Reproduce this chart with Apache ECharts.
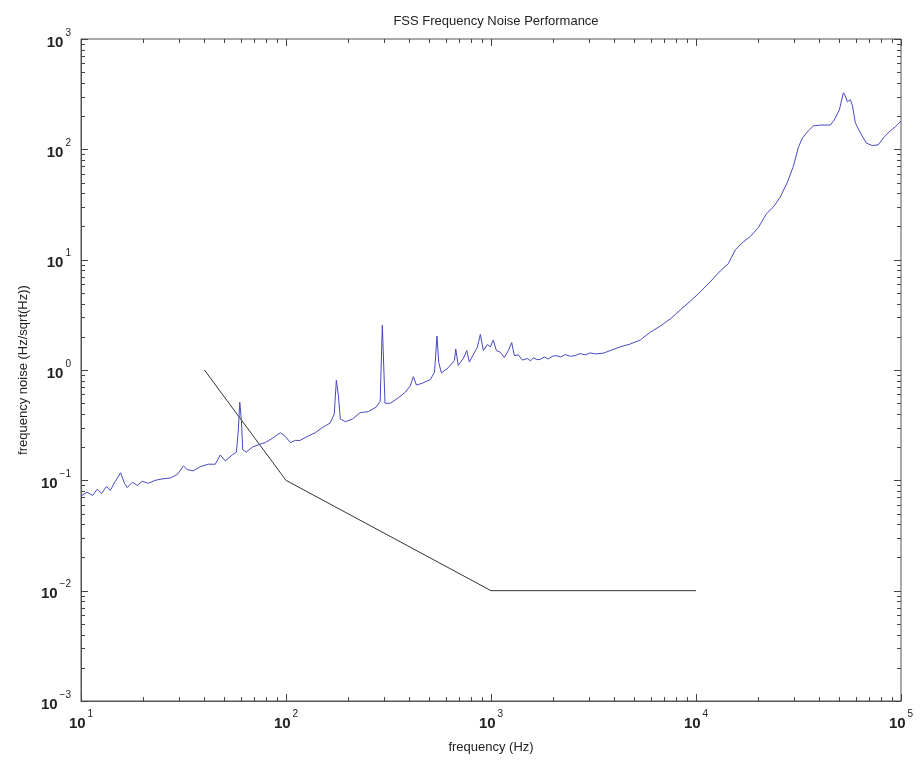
<!DOCTYPE html>
<html>
<head>
<meta charset="utf-8">
<script src="https://cdn.jsdelivr.net/npm/echarts@6/dist/echarts.min.js"></script>
<style>
html,body{margin:0;padding:0;background:#fff;}
#chart{width:922px;height:763px;}
</style>
</head>
<body>
<div id="chart"></div>
<script>
// ---- Data ----
const titleText = 'FSS Frequency Noise Performance';
const xAxisName = 'frequency (Hz)';
const yAxisName = 'frequency noise (Hz/sqrt(Hz))';

const xDecadeExponents = [1, 2, 3, 4, 5];
const yDecadeExponents = [-3, -2, -1, 0, 1, 2, 3];

// measured noise (blue)
const noiseFreq = [
  10.0, 10.7, 11.4, 12.0, 12.6, 13.3, 13.9, 14.7, 15.6, 16.3,
  16.8, 17.8, 18.8, 19.9, 21.3, 23.0, 24.9, 27.3, 29.5, 31.6,
  33.0, 35.3, 38.2, 41.8, 45.2, 47.8, 50.6, 54.7, 57.3, 58.5,
  59.5, 60.6, 61.5, 64.0, 68.5, 73.3, 79.3, 85.7, 93.8, 99.3,
  105, 111, 117, 127, 139, 150, 164, 172, 176, 180,
  184, 195, 211, 230, 252, 275, 288, 295, 298, 304,
  323, 353, 382, 404, 418, 433, 463, 506, 530, 545,
  556, 573, 619, 663, 673, 692, 732, 762, 784, 829,
  857, 887, 918, 960, 993, 1026, 1062, 1110, 1161, 1215,
  1262, 1300, 1360, 1422, 1504, 1560, 1610, 1680, 1741, 1820, 1905, 1990, 2082, 2190, 2303,
  2440, 2577, 2720, 2883, 3050, 3226, 3530, 3818, 4271, 4779, 5347, 5982, 6693,
  7488, 8377, 9372, 10490, 11730, 13130, 14380, 15550, 17010, 18400,
  20140, 22040, 23840, 25770, 27870, 29840, 31560, 33040, 35320, 37360,
  40430, 45230, 47300, 50040, 52350, 53490, 54740, 56620, 57930, 59860,
  63340, 67770, 72480, 77520, 82910, 88670, 93770, 100000
];
const noiseValue = [
  0.072, 0.078, 0.073, 0.083, 0.076, 0.088, 0.081, 0.098, 0.117, 0.094,
  0.086, 0.096, 0.090, 0.098, 0.094, 0.100, 0.103, 0.105, 0.113, 0.135,
  0.125, 0.122, 0.133, 0.140, 0.140, 0.170, 0.150, 0.170, 0.180, 0.280,
  0.510, 0.350, 0.190, 0.180, 0.200, 0.210, 0.220, 0.240, 0.270, 0.250,
  0.220, 0.230, 0.230, 0.250, 0.270, 0.300, 0.330, 0.400, 0.810, 0.590,
  0.360, 0.340, 0.360, 0.410, 0.420, 0.460, 0.520, 2.55, 1.50, 0.500,
  0.500, 0.560, 0.630, 0.720, 0.870, 0.730, 0.760, 0.820, 0.950, 2.03,
  1.17, 0.940, 1.05, 1.22, 1.55, 1.10, 1.27, 1.50, 1.18, 1.43,
  1.60, 2.10, 1.50, 1.70, 1.62, 1.87, 1.50, 1.45, 1.30, 1.50,
  1.77, 1.35, 1.37, 1.23, 1.27, 1.21, 1.29, 1.24, 1.25, 1.31, 1.26, 1.33, 1.35, 1.31, 1.38,
  1.33, 1.35, 1.41, 1.37, 1.43, 1.40, 1.42, 1.50, 1.62, 1.72, 1.87, 2.20, 2.50,
  2.90, 3.50, 4.20, 5.10, 6.30, 7.90, 9.20, 12.3, 14.5, 16.2,
  19.5, 26, 30, 37, 50, 70, 104, 127, 147, 163,
  166, 166, 185, 228, 325, 305, 270, 282, 250, 174,
  141, 114, 108, 110, 130, 147, 160, 180
];

// requirement (black)
const reqFreq = [40, 100, 1000, 10000];
const reqValue = [1, 0.1, 0.01, 0.01];

// ---- Build chart ----
const xMin = 10, xMax = 100000, yMin = 0.001, yMax = 1000;

function pairs(a, b) { return a.map((v, i) => [v, b[i]]); }

// tick marks (major + minor) for the box frame
const tickItems = [];
for (let e = 1; e < 5; e++) {
  for (let m = 1; m <= 9; m++) tickItems.push(['x', m * Math.pow(10, e), m === 1 ? 1 : 0]);
}
tickItems.push(['x', xMax, 1]);
for (let e = -3; e < 3; e++) {
  for (let m = 1; m <= 9; m++) tickItems.push(['y', m * Math.pow(10, e), m === 1 ? 1 : 0]);
}
tickItems.push(['y', yMax, 1]);

const tickColor = '#444';
function renderTick(params, api) {
  const cs = params.coordSys;
  const item = tickItems[params.dataIndex];
  const v = item[1];
  const major = item[2] === 1;
  const len = major ? 7 : 4;
  const style = { stroke: tickColor, lineWidth: 1 };
  if (item[0] === 'x') {
    const px = Math.round(api.coord([v, yMin])[0]) + 0.5;
    return { type: 'group', children: [
      { type: 'line', shape: { x1: px, y1: cs.y + cs.height, x2: px, y2: cs.y + cs.height - len }, style },
      { type: 'line', shape: { x1: px, y1: cs.y, x2: px, y2: cs.y + len }, style }
    ]};
  } else {
    const py = Math.round(api.coord([xMin, v])[1]) + 0.5;
    return { type: 'group', children: [
      { type: 'line', shape: { x1: cs.x, y1: py, x2: cs.x + len, y2: py }, style },
      { type: 'line', shape: { x1: cs.x + cs.width, y1: py, x2: cs.x + cs.width - len, y2: py }, style }
    ]};
  }
}

function expLabel(value) {
  const e = Math.round(Math.log10(value));
  const s = e < 0 ? '\u2212' + (-e) : String(e);
  return '{b|10}{s|' + s + '}';
}
const labelRich = {
  b: { fontSize: 15, fontWeight: 'bold', fontFamily: 'Liberation Sans, Arial, sans-serif', color: '#222', lineHeight: 22, verticalAlign: 'bottom' },
  s: { fontSize: 10, fontFamily: 'Liberation Sans, Arial, sans-serif', color: '#222', lineHeight: 22, verticalAlign: 'top', padding: [0, 0, 0, 2] }
};

const chart = echarts.init(document.getElementById('chart'), null, { renderer: 'canvas' });
chart.setOption({
  animation: false,
  backgroundColor: '#ffffff',
  title: {
    text: titleText,
    left: 491, top: 10, textAlign: 'center',
    textStyle: { fontSize: 13, fontWeight: 'normal', color: '#222', fontFamily: 'Liberation Sans, Arial, sans-serif' }
  },
  grid: { left: 81, right: 21, top: 39, bottom: 62, show: true, borderColor: '#555', borderWidth: 1, backgroundColor: 'transparent' },
  xAxis: {
    type: 'log', logBase: 10, min: xMin, max: xMax,
    name: xAxisName, nameLocation: 'middle', nameGap: 40,
    nameTextStyle: { fontSize: 13, color: '#222', fontFamily: 'Liberation Sans, Arial, sans-serif' },
    axisLine: { show: true, lineStyle: { color: '#555' } },
    axisTick: { show: false },
    splitLine: { show: false },
    axisLabel: { formatter: expLabel, rich: labelRich, margin: 8 }
  },
  yAxis: {
    type: 'log', logBase: 10, min: yMin, max: yMax,
    name: yAxisName, nameLocation: 'middle', nameGap: 49,
    nameTextStyle: { fontSize: 13, color: '#222', fontFamily: 'Liberation Sans, Arial, sans-serif' },
    axisLine: { show: true, lineStyle: { color: '#555' } },
    axisTick: { show: false },
    splitLine: { show: false },
    axisLabel: { formatter: expLabel, rich: labelRich, margin: 10 }
  },
  series: [
    {
      type: 'line', data: pairs(noiseFreq, noiseValue), showSymbol: false, symbol: 'none',
      lineStyle: { color: '#4848c4', width: 1 }, z: 3
    },
    {
      type: 'line', data: pairs(reqFreq, reqValue), showSymbol: false, symbol: 'none',
      lineStyle: { color: '#333333', width: 1 }, z: 2
    },
    {
      type: 'custom', renderItem: renderTick, silent: true, z: 5,
      data: tickItems.map(t => [t[0] === 'x' ? t[1] : xMin, t[0] === 'y' ? t[1] : yMin])
    }
  ]
});
</script>
</body>
</html>
